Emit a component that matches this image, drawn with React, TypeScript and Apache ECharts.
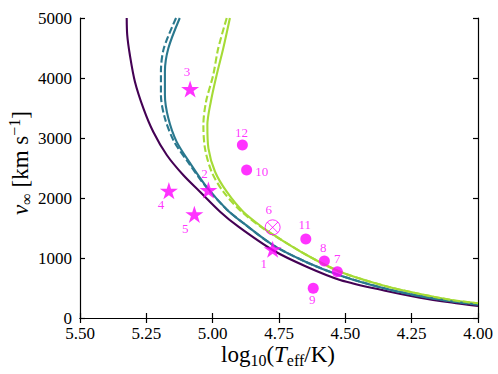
import React, { useEffect, useRef } from "react";
import * as echarts from "echarts";

// ---- data (log10 Teff, v_inf in km/s) ----
const purpleT = [5.324, 5.322, 5.312, 5.293, 5.261, 5.224, 5.173, 5.111, 5.048, 4.972, 4.903, 4.771, 4.646, 4.52, 4.35, 4.219, 4.1, 4.0];
const purpleV = [5000, 4717, 4383, 3939, 3495, 3105, 2717, 2383, 2105, 1772, 1522, 1125, 855, 635, 455, 340, 258, 200];

const tealT = [5.124, 5.167, 5.18, 5.18, 5.167, 5.136, 5.085, 5.022, 4.947, 4.884, 4.771, 4.646, 4.52, 4.35, 4.219, 4.1, 4.0];
const tealV = [5000, 4495, 4105, 3717, 3328, 2939, 2580, 2180, 1810, 1580, 1210, 930, 710, 490, 365, 278, 222];

const tealDashT = [5.138, 5.184, 5.195, 5.195, 5.18, 5.145, 5.09, 5.024, 4.947, 4.884, 4.771, 4.646, 4.52, 4.35, 4.219, 4.1, 4.0];
const tealDashV = [5000, 4495, 4105, 3717, 3328, 2939, 2580, 2180, 1810, 1580, 1210, 930, 710, 490, 365, 278, 222];

const greenT = [4.935, 4.96, 4.985, 5.007, 5.02, 5.016, 4.991, 4.947, 4.885, 4.803, 4.771, 4.646, 4.52, 4.35, 4.219, 4.1, 4.0];
const greenV = [5000, 4495, 4050, 3605, 3217, 2828, 2438, 2105, 1772, 1480, 1385, 1050, 772, 533, 400, 300, 245];

const greenDashT = [4.947, 4.979, 4.998, 5.025, 5.035, 5.029, 5.004, 4.96, 4.891, 4.806, 4.771, 4.646, 4.52, 4.35, 4.219, 4.1, 4.0];
const greenDashV = [5000, 4495, 4050, 3605, 3217, 2828, 2438, 2105, 1772, 1480, 1385, 1050, 772, 533, 400, 300, 245];

const starNames = ["1", "2", "3", "4", "5"];
const starT = [4.774, 5.016, 5.085, 5.165, 5.069];
const starV = [1145, 2133, 3817, 2122, 1728];

const dotNames = ["7", "8", "9", "10", "11", "12"];
const dotT = [4.53, 4.579, 4.621, 4.872, 4.649, 4.888];
const dotV = [772, 950, 495, 2467, 1317, 2883];

const openNames = ["6"];
const openT = [4.774];
const openV = [1511];

const xTicks = [4.0, 4.25, 4.5, 4.75, 5.0, 5.25, 5.5];
const yTicks = [0, 1000, 2000, 3000, 4000, 5000];

// ---- styling ----
const labelOffsets: Record<string, [number, number]> = {
  "1": [-9, 14],
  "2": [-4, -17],
  "3": [-3, -17],
  "4": [-8, 14],
  "5": [-9, 14],
  "6": [-4, -18],
  "7": [0, -13],
  "8": [-1, -14],
  "9": [-1, 11],
  "10": [15, 2],
  "11": [-1, -14],
  "12": [-1, -13],
};

const SERIF = "Liberation Serif, DejaVu Serif, serif";
const MAGENTA = "#ff00ff";

const starPath = (() => {
  const pts: string[] = [];
  for (let i = 0; i < 10; i++) {
    const r = i % 2 === 0 ? 1 : 0.382;
    const a = -Math.PI / 2 + (i * Math.PI) / 5;
    pts.push(`${(r * Math.cos(a) * 100).toFixed(2)},${(r * Math.sin(a) * 100).toFixed(2)}`);
  }
  return "path://M" + pts.join(" L") + " Z";
})();

const otimesPath =
  "path://M0,50 A50,50 0 1,1 100,50 A50,50 0 1,1 0,50 Z M14.64,14.64 L85.36,85.36 M85.36,14.64 L14.64,85.36";

const zip = (a: number[], b: number[]) => a.map((t, i) => [t, b[i]]);

const mkLine = (t: number[], v: number[], color: string, dashed: boolean) => ({
  type: "line",
  data: zip(t, v),
  showSymbol: false,
  symbol: "none",
  smooth: 0.3,
  lineStyle: { color, width: 2.1, type: dashed ? [7, 3] : "solid" },
  z: dashed ? 3 : 2,
});

const mkPoints = (names: string[], t: number[], v: number[]) =>
  names.map((n, i) => ({
    name: n,
    value: [t[i], v[i]],
    label: { offset: labelOffsets[n] },
  }));

const pointLabel = {
  show: true,
  position: "inside",
  formatter: "{b}",
  color: MAGENTA,
  fontFamily: SERIF,
  fontSize: 13,
  textBorderWidth: 0,
};

export default function App() {
  const ref = useRef<HTMLDivElement>(null);
  useEffect(() => {
    if (!ref.current) return;
    const chart = echarts.init(ref.current, undefined, { renderer: "svg" });
    const axisCommon = {
      type: "value",
      axisLine: { show: true, lineStyle: { color: "#000", width: 1.2 } },
      axisTick: { show: true, inside: true, length: 5, lineStyle: { color: "#000", width: 1.2 } },
      splitLine: { show: false },
    };
    const xBase = { ...axisCommon, min: 4.0, max: 5.5, interval: 0.25, inverse: true };
    const yBase = { ...axisCommon, min: 0, max: 5000, interval: 1000 };
    chart.setOption({
      animation: false,
      backgroundColor: "#fff",
      grid: { left: 80, right: 20, top: 18, bottom: 56 },
      xAxis: [
        {
          ...xBase,
          position: "bottom",
          axisLabel: {
            show: true,
            margin: 7,
            color: "#000",
            fontFamily: SERIF,
            fontSize: 17,
            formatter: (val: number) => (xTicks.includes(val) ? val.toFixed(2) : ""),
          },
        },
        { ...xBase, position: "top", axisLabel: { show: false } },
      ],
      yAxis: [
        {
          ...yBase,
          position: "left",
          axisLabel: {
            show: true,
            margin: 8,
            color: "#000",
            fontFamily: SERIF,
            fontSize: 17,
            formatter: (val: number) => (yTicks.includes(val) ? String(val) : ""),
          },
        },
        { ...yBase, position: "right", axisLabel: { show: false } },
      ],
      series: [
        mkLine(purpleT, purpleV, "#440154", false),
        mkLine(tealT, tealV, "#2a788e", false),
        mkLine(tealDashT, tealDashV, "#2a788e", true),
        mkLine(greenT, greenV, "#a5db36", false),
        mkLine(greenDashT, greenDashV, "#a5db36", true),
        {
          type: "scatter",
          symbol: starPath,
          symbolSize: 18,
          symbolKeepAspect: true,
          itemStyle: { color: MAGENTA },
          label: pointLabel,
          data: mkPoints(starNames, starT, starV),
          z: 5,
        },
        {
          type: "scatter",
          symbol: "circle",
          symbolSize: 11,
          itemStyle: { color: MAGENTA },
          label: pointLabel,
          data: mkPoints(dotNames, dotT, dotV),
          z: 5,
        },
        {
          type: "scatter",
          symbol: otimesPath,
          symbolSize: 15,
          symbolKeepAspect: true,
          itemStyle: { color: "transparent", borderColor: MAGENTA, borderWidth: 1 },
          label: pointLabel,
          data: mkPoints(openNames, openT, openV),
          z: 5,
        },
      ],
      graphic: [
        {
          type: "text",
          x: 278,
          y: 354,
          style: {
            text: "{r|log}{sub|10}{r|(}{i|T}{sub|eff}{r|/K)}",
            align: "center",
            verticalAlign: "middle",
            rich: {
              r: { fontFamily: SERIF, fontSize: 23, lineHeight: 28, fill: "#000" },
              i: { fontFamily: SERIF, fontSize: 23, fontStyle: "italic", lineHeight: 28, fill: "#000" },
              sub: { fontFamily: SERIF, fontSize: 16, lineHeight: 15, verticalAlign: "bottom", fill: "#000" },
            },
          },
        },
        {
          type: "text",
          x: 20,
          y: 163,
          rotation: Math.PI / 2,
          style: {
            text: "{i|v}{sub|∞}{r| [km s}{sup|−1}{r|]}",
            align: "center",
            verticalAlign: "middle",
            rich: {
              r: { fontFamily: SERIF, fontSize: 23, lineHeight: 28, fill: "#000" },
              i: { fontFamily: SERIF, fontSize: 23, fontStyle: "italic", lineHeight: 28, fill: "#000" },
              sub: { fontFamily: SERIF, fontSize: 16, lineHeight: 15, verticalAlign: "bottom", fill: "#000" },
              sup: { fontFamily: SERIF, fontSize: 16, lineHeight: 15, verticalAlign: "top", fill: "#000" },
            },
          },
        },
      ],
    });
    return () => chart.dispose();
  }, []);
  return (
    <div
      ref={ref}
      style={{ position: "fixed", left: 0, top: 0, width: 498, height: 374, background: "#fff" }}
    />
  );
}
